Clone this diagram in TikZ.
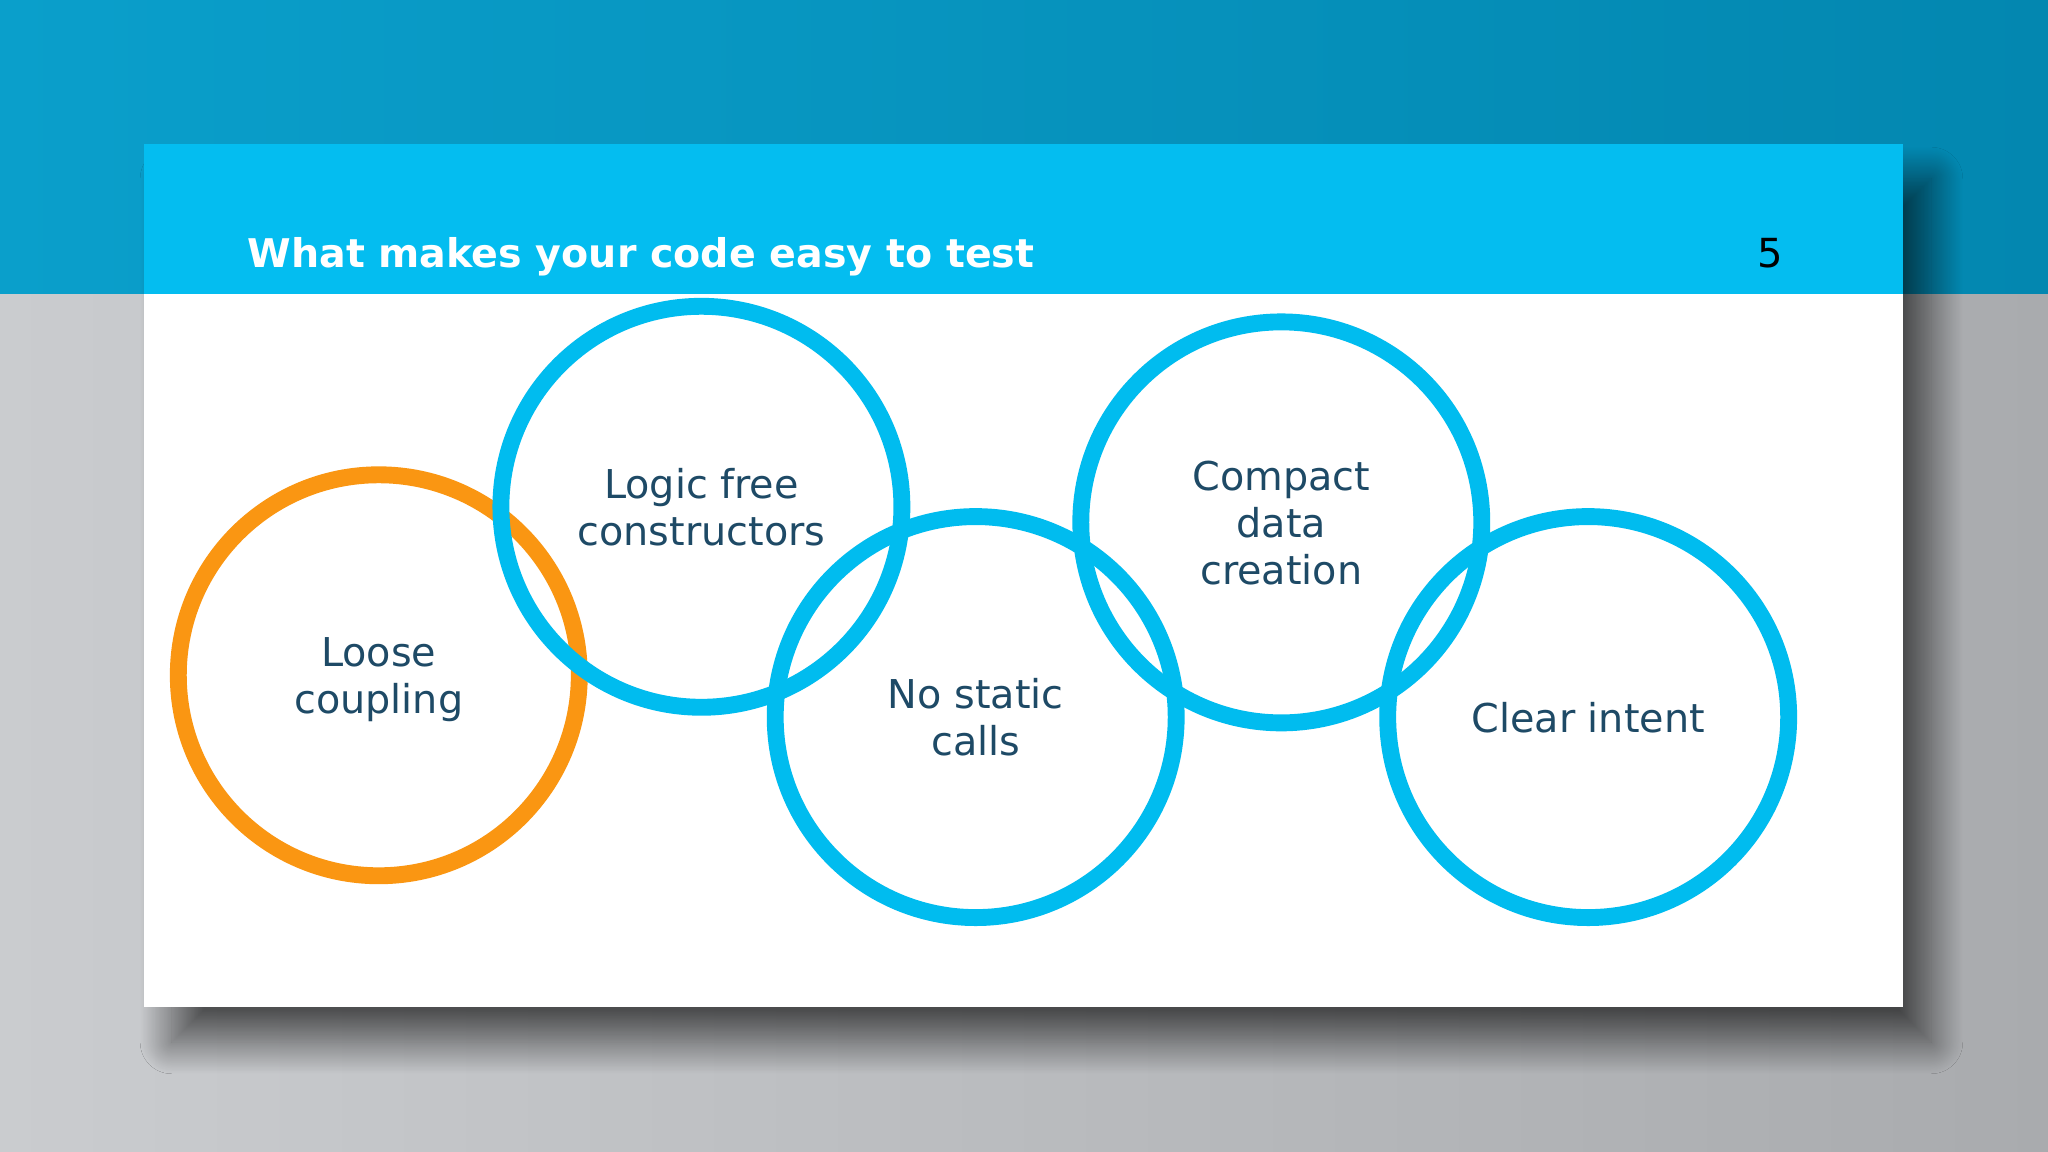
\documentclass[tikz,border=0pt]{standalone}
\usepackage{fontspec}
\setmainfont{DejaVu Sans}
\usepackage{tikz}
\usetikzlibrary{calc, positioning, shapes, shadows.blur, backgrounds}
\definecolor{bandtop}{HTML}{0A9FCB}
\definecolor{bandtopdark}{HTML}{0387B0}
\definecolor{greyleft}{HTML}{CACCCF}
\definecolor{greyright}{HTML}{A9ABAE}
\definecolor{header}{HTML}{04BDF0}
\definecolor{ringblue}{HTML}{00BCEF}
\definecolor{ringorange}{HTML}{FA9612}
\definecolor{label}{HTML}{1E4A66}
\tikzset{
  ring/.style={circle, draw=ringblue, line width=4.8pt, minimum size=4.01cm, inner sep=0pt,
    align=center, text=label, font=\fontsize{11.3}{13.4}\selectfont, text depth=0pt},
  hot/.style={ring, draw=ringorange}
}

\begin{document}
\begin{tikzpicture}

		\useasboundingbox (0,0) rectangle (20.48,11.52);
		\shade[left color=greyleft, right color=greyright] (0,0) rectangle (20.48,8.581);
		\shade[left color=bandtop, right color=bandtopdark] (0,8.581) rectangle (20.48,11.52);

		\fill[white, blur shadow={shadow xshift=8pt, shadow yshift=-10pt, shadow blur radius=9pt,
			shadow blur steps=40, shadow opacity=60}]
			(1.437,1.450) rectangle (19.03,10.083);
		\fill[header] (1.437,8.581) rectangle (19.03,10.083);

		\node[anchor=base west, inner sep=0pt, text=white, font=\bfseries\fontsize{11.25}{13}\selectfont] (title) at (2.469,8.842) {What makes your code easy to test};
		\node[anchor=base, inner sep=0pt, text=black, font=\fontsize{11.4}{13}\selectfont] (page) at (17.698,8.842) {5};

		\node[hot] (loose) at (3.788,4.767) {Loose\\coupling};
		\node[ring] (logic) at (7.014,6.452) {Logic free\\constructors};
		\node[ring] (static) at (9.757,4.349) {No static\\calls};
		\node[ring] (compact) at (12.813,6.296) {Compact\\data\\creation};
		\node[ring] (intent) at (15.882,4.349) {Clear intent};

	\end{tikzpicture}
\end{document}
